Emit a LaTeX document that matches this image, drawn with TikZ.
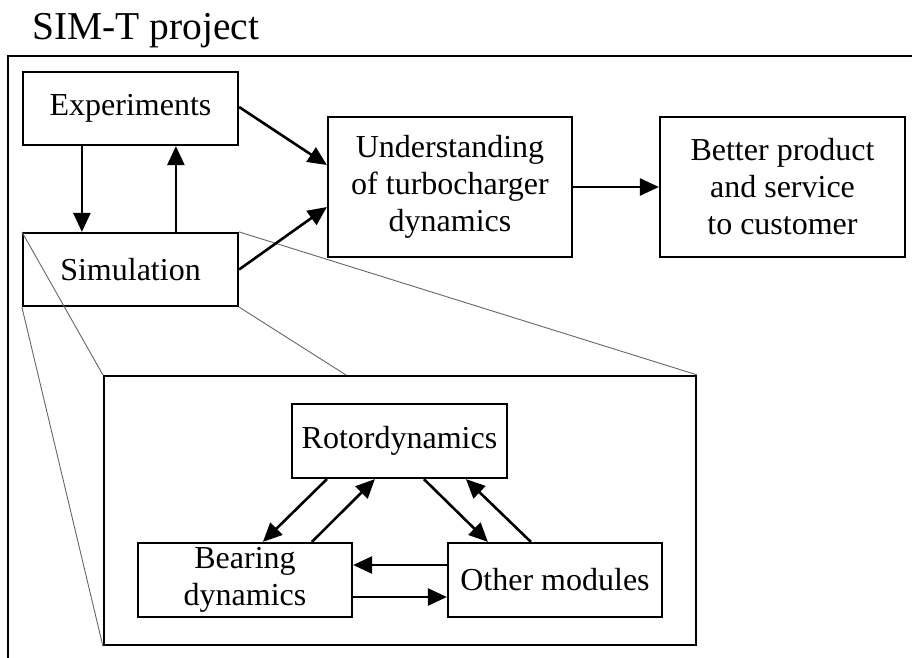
\documentclass[tikz,border=0pt]{standalone}
\usepackage{fontspec}
\setmainfont{Liberation Serif}
\usetikzlibrary{arrows.meta,calc}
\tikzset{
  boxnode/.style={draw=black, line width=2.2pt, rectangle, inner sep=0pt, align=center,
    font=\fontsize{32}{37}\selectfont},
  flowarrow/.style={draw=black, line width=2.6pt, -{Triangle[length=19pt,width=17pt]}},
  zoomline/.style={draw=black!60, line width=0.9pt},
  framepath/.style={draw=black, line width=2.2pt}
}
\begin{document}
\begin{tikzpicture}[x=1pt,y=-1pt]
\useasboundingbox (0,0) rectangle (912,657);
% title
\node[anchor=base west, inner sep=0pt, font=\fontsize{39.5}{45}\selectfont] (title) at (32,39) {SIM-T project};
% outer frame (only top and left edges visible)
\coordinate (fbl) at (8,660);
\coordinate (ftl) at (8,56);
\coordinate (ftr) at (915,56);
\draw[framepath] (fbl) -- (ftl) -- (ftr);
% upper boxes
\node[boxnode, minimum width=215pt, minimum height=73pt] (exp) at (130.5,108.5) {Experiments};
\node[boxnode, minimum width=215pt, minimum height=73pt] (sim) at (130.5,269.5) {Simulation};
\node[boxnode, minimum width=244pt, minimum height=140pt] (und) at (450,187) {Understanding\\of turbocharger\\dynamics};
\node[boxnode, minimum width=245pt, minimum height=140pt] (bet) at (782.5,187) {Better product\\and service\\to customer};
% zoom box and inner boxes
\node[boxnode, minimum width=592pt, minimum height=269pt] (zb) at (400,510.5) {};
\node[boxnode, minimum width=215pt, minimum height=74pt] (rot) at (399.5,441) {Rotordynamics};
\node[boxnode, minimum width=214pt, minimum height=74pt] (bear) at (245,580) {Bearing\\dynamics};
\node[boxnode, minimum width=214pt, minimum height=74pt] (oth) at (555,580) {Other modules};
% zoom lines
\draw[zoomline] (sim.north west) -- (zb.north west);
\draw[zoomline] (sim.south west) -- (zb.south west);
\draw[zoomline] (sim.north east) -- (zb.north east);
\draw[zoomline] (sim.south east) -- ($(zb.north west)+(243,0)$);
% upper arrows
\draw[flowarrow] ($(exp.south west)+(60,0)$) -- ($(sim.north west)+(60,0)$);
\draw[flowarrow] ($(sim.north west)+(154,0)$) -- ($(exp.south west)+(154,0)$);
\draw[flowarrow] ($(exp.east)+(0,-1.5)$) -- ($(und.west)+(0,-22)$);
\draw[flowarrow] (sim.east) -- ($(und.west)+(0,20)$);
\draw[flowarrow] (und.east) -- (bet.west);
% inner arrows
\draw[flowarrow] ($(rot.south west)+(36,0)$) -- ($(bear.north west)+(126,0)$);
\draw[flowarrow] ($(bear.north west)+(175,0)$) -- ($(rot.south west)+(84,0)$);
\draw[flowarrow] ($(rot.south west)+(133,0)$) -- ($(oth.north west)+(41,0)$);
\draw[flowarrow] ($(oth.north west)+(84,0)$) -- ($(rot.south west)+(175,0)$);
\draw[flowarrow] ($(oth.west)+(0,-15)$) -- ($(bear.east)+(0,-15)$);
\draw[flowarrow] ($(bear.east)+(0,17)$) -- ($(oth.west)+(0,17)$);
\end{tikzpicture}
\end{document}
